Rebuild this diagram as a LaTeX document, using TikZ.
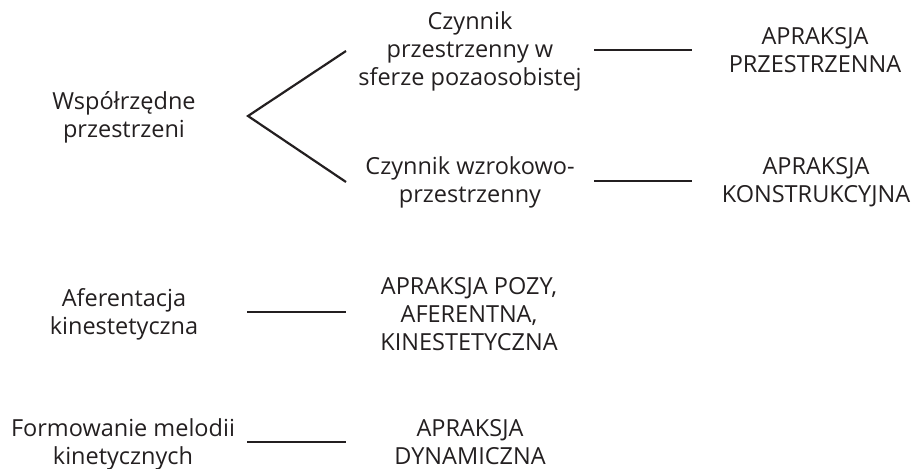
\documentclass[tikz,border=0pt]{standalone}
\usepackage{fontspec}
\setmainfont{Open Sans}
\definecolor{ink}{HTML}{231F20}
\begin{document}
\begin{tikzpicture}[x=1pt,y=-1pt,
  lbl/.style={align=center,inner sep=0pt,text=ink,font=\fontsize{23.5}{28}\selectfont},
  conn/.style={draw=ink,line width=2.2pt}]
\useasboundingbox (0,0) rectangle (914,469);
% left column
\node[lbl] (wsp) at (124,117) {Współrzędne\\przestrzeni};
\node[lbl] (afe) at (124,314) {Aferentacja\\kinestetyczna};
\node[lbl] (for) at (123,444) {Formowanie melodii\\kinetycznych};
% middle column
\node[lbl] (czp) at (470,51) {Czynnik\\przestrzenny w\\sferze pozaosobistej};
\node[lbl] (czw) at (470,182) {Czynnik wzrokowo-\\przestrzenny};
\node[lbl] (apo) at (469,314) {APRAKSJA POZY,\\AFERENTNA,\\KINESTETYCZNA};
\node[lbl] (ady) at (470,442) {APRAKSJA\\DYNAMICZNA};
% right column
\node[lbl] (apr) at (815,50) {APRAKSJA\\PRZESTRZENNA};
\node[lbl] (ako) at (816,182) {APRAKSJA\\KONSTRUKCYJNA};
% connector end points
\coordinate (vx) at (248,116);
\coordinate (vu) at (346,51);
\coordinate (vd) at (346,182);
\coordinate (a1) at (594,50);  \coordinate (b1) at (692,50);
\coordinate (a2) at (594,181); \coordinate (b2) at (692,181);
\coordinate (a3) at (247,312); \coordinate (b3) at (346,312);
\coordinate (a4) at (247,442); \coordinate (b4) at (346,442);
\draw[conn] (vu) -- (vx) -- (vd);
\draw[conn] (a1) -- (b1);
\draw[conn] (a2) -- (b2);
\draw[conn] (a3) -- (b3);
\draw[conn] (a4) -- (b4);
\end{tikzpicture}
\end{document}
